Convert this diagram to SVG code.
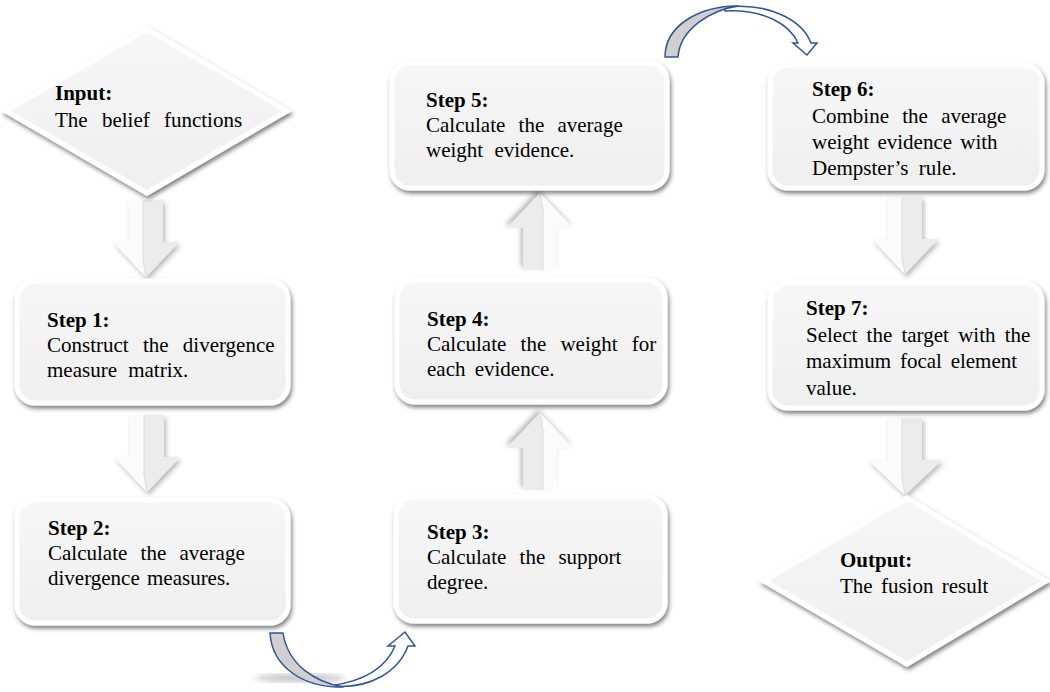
<svg xmlns="http://www.w3.org/2000/svg" width="1050" height="692" viewBox="0 0 1050 692">
<defs>
<linearGradient id="boxGrad" x1="0" y1="0" x2="0" y2="1">
<stop offset="0" stop-color="#f7f7f7"/>
<stop offset="1" stop-color="#efefef"/>
</linearGradient>
<filter id="sh" x="-10%" y="-10%" width="125%" height="130%">
<feDropShadow dx="1.5" dy="3" stdDeviation="2.2" flood-color="#000" flood-opacity="0.5"/>
</filter>
<filter id="ash" x="-30%" y="-20%" width="160%" height="150%">
<feDropShadow dx="2" dy="3" stdDeviation="2.5" flood-color="#000" flood-opacity="0.28"/>
</filter>
<filter id="blur"><feGaussianBlur stdDeviation="3"/></filter>
<g id="downArrow">
<path d="M-17,0 L17,0 L17,42 L33,42 L0,77 L-33,42 L-17,42 Z" fill="#ececec" filter="url(#ash)"/>
<path d="M-17,0 L-3,0 L-3,60 L0,77 L-33,42 L-17,42 Z" fill="#fbfbfb"/>
<path d="M-3,0 L-3,60 L0,77" fill="none" stroke="#dcdcdc" stroke-width="1"/>
</g>
<g id="downArrowBig">
<path d="M-17,0 L17,0 L17,42 L37,42 L0,77 L-37,42 L-17,42 Z" fill="#ececec" filter="url(#ash)"/>
<path d="M-17,0 L-3,0 L-3,60 L0,77 L-37,42 L-17,42 Z" fill="#fbfbfb"/>
<path d="M-3,0 L-3,60 L0,77" fill="none" stroke="#dcdcdc" stroke-width="1"/>
</g>
</defs>
<style>
.box{fill:url(#boxGrad);stroke:#ffffff;stroke-width:5;filter:url(#sh);}
.dia{fill:url(#boxGrad);stroke:#ffffff;stroke-width:5;stroke-linejoin:miter;filter:url(#sh);}
.t{font-family:"Liberation Serif","Times New Roman",serif;font-size:21px;fill:#000;}
.b{font-weight:bold;}
.crescent{fill:#d0d0d0;stroke:#2f5597;stroke-width:1.5;stroke-linejoin:round;}
.body{fill:#ffffff;stroke:#2f5597;stroke-width:1.5;stroke-linejoin:miter;}
</style>

<g id="connectors">
<use href="#downArrow" transform="translate(146,200)"/>
<use href="#downArrow" transform="translate(147,415)"/>
<use href="#downArrow" transform="translate(540,490) rotate(180)"/>
<use href="#downArrow" transform="translate(540,270) rotate(180)"/>
<use href="#downArrow" transform="translate(905,197)"/>
<use href="#downArrowBig" transform="translate(905,418)"/>
<ellipse cx="300" cy="678" rx="45" ry="4" fill="#999" opacity="0.6" filter="url(#blur)"/>
<g id="curveBottom">
<path class="body" d="M330,686 C372,690 399,670 408,646 L415,646 L405,632 L388,646 L395,646 C386,668 365,681 330,686 Z"/>
<path class="crescent" d="M270,633 C272,668 305,688 343,687 C315,682 288,665 283,633 Z"/>
</g>
<g id="curveTop">
<path class="body" d="M725,7 C772,2 803,22 811,43 L817,43 L807,55 L793,43 L798,43 C790,25 765,9 725,11 Z"/>
<path class="crescent" d="M665,57 C665,25 700,6 738,6 C712,10 680,28 678,57 Z"/>
</g>
</g>

<g id="input">
<polygon class="dia" points="147,29 287,111 147,193 6,111"/>
<text class="t b" x="55" y="100">Input:</text>
<text class="t" x="55" y="127" word-spacing="9">The belief functions</text>
</g>

<g id="step1">
<rect class="box" x="17" y="281" width="271" height="122" rx="18"/>
<text class="t b" x="47" y="327">Step 1:</text>
<text class="t" x="47" y="352" word-spacing="9">Construct the divergence</text>
<text class="t" x="47" y="377" word-spacing="6">measure matrix.</text>
</g>

<g id="step2">
<rect class="box" x="17" y="500" width="271" height="123" rx="18"/>
<text class="t b" x="48" y="535">Step 2:</text>
<text class="t" x="48" y="560" word-spacing="8">Calculate the average</text>
<text class="t" x="48" y="585" word-spacing="2">divergence measures.</text>
</g>

<g id="step3">
<rect class="box" x="396" y="497" width="269" height="124" rx="18"/>
<text class="t b" x="427" y="539">Step 3:</text>
<text class="t" x="427" y="564" word-spacing="8">Calculate the support</text>
<text class="t" x="427" y="589">degree.</text>
</g>

<g id="step4">
<rect class="box" x="397" y="280" width="268" height="122" rx="18"/>
<text class="t b" x="427" y="326">Step 4:</text>
<text class="t" x="427" y="351" word-spacing="9">Calculate the weight for</text>
<text class="t" x="427" y="376" word-spacing="4">each evidence.</text>
</g>

<g id="step5">
<rect class="box" x="392" y="63" width="275" height="125" rx="18"/>
<text class="t b" x="426" y="107">Step 5:</text>
<text class="t" x="426" y="132" word-spacing="8">Calculate the average</text>
<text class="t" x="426" y="157" word-spacing="6">weight evidence.</text>
</g>

<g id="step6">
<rect class="box" x="770" y="65" width="272" height="123" rx="18"/>
<text class="t b" x="812" y="96">Step 6:</text>
<text class="t" x="812" y="123" word-spacing="8">Combine the average</text>
<text class="t" x="812" y="149" word-spacing="3">weight evidence with</text>
<text class="t" x="812" y="175" word-spacing="5">Dempster’s rule.</text>
</g>

<g id="step7">
<rect class="box" x="770" y="283" width="272" height="125" rx="18"/>
<text class="t b" x="806" y="315">Step 7:</text>
<text class="t" x="806" y="342" word-spacing="4">Select the target with the</text>
<text class="t" x="806" y="368" word-spacing="3.5">maximum focal element</text>
<text class="t" x="806" y="395">value.</text>
</g>

<g id="output">
<polygon class="dia" points="907,498 1046,581 907,664 764,581"/>
<text class="t b" x="840" y="567">Output:</text>
<text class="t" x="840" y="593" word-spacing="3">The fusion result</text>
</g>
</svg>
